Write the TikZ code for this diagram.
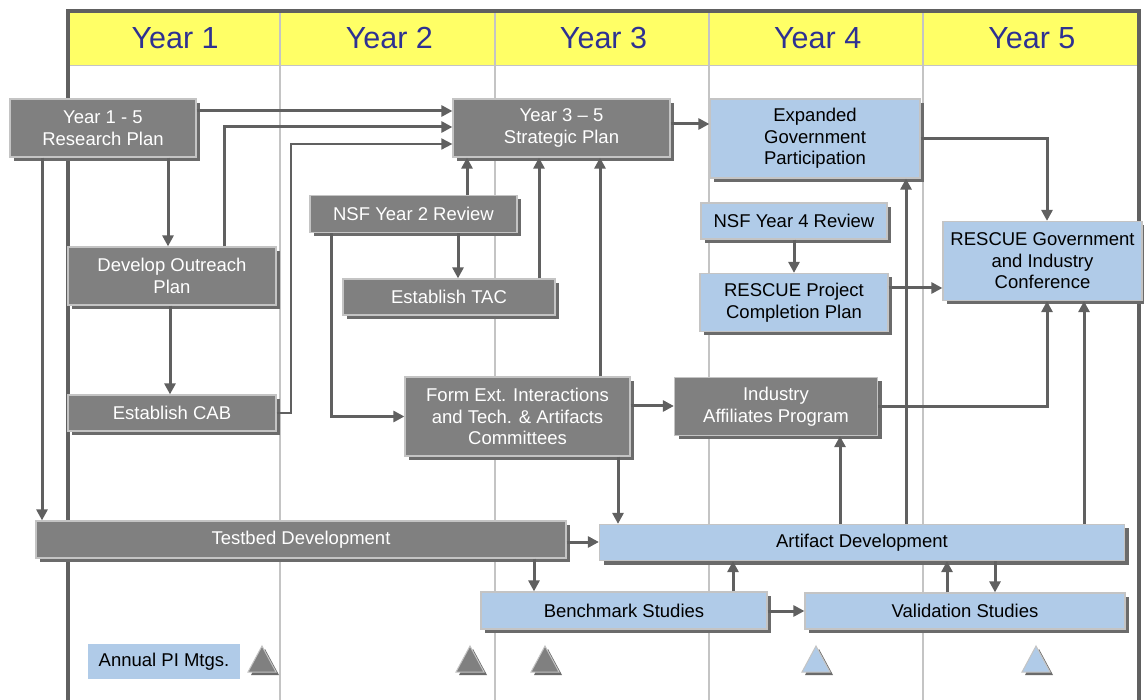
\documentclass[tikz,border=0pt]{standalone}
\usepackage{fontspec}
\setmainfont{Liberation Sans}
\usetikzlibrary{arrows.meta,shadows}
\definecolor{boxgray}{HTML}{808080}
\definecolor{linegray}{HTML}{606060}
\definecolor{skyblue}{HTML}{B0CBE8}
\definecolor{headblue}{HTML}{2E3192}
\definecolor{headyellow}{HTML}{FFFF66}
\definecolor{gridgray}{HTML}{C4C4C4}

\begin{document}
\begin{tikzpicture}[x=1pt, y=-1pt,
  task/.style={draw=gridgray, line width=1.2pt, align=center, inner sep=0pt,
    font=\fontsize{18.5}{21.5}\selectfont,
    drop shadow={shadow xshift=4pt, shadow yshift=-4pt, fill=black!58, opacity=1}},
  dark/.style={task, fill=boxgray, text=white},
  light/.style={task, fill=skyblue, text=black},
  boxsize/.style 2 args={minimum width=#1pt, minimum height=#2pt},
  arr/.style={draw=linegray, line width=3pt, -{Triangle[length=11pt,width=11pt]}},
  thinarr/.style={arr, line width=1.8pt}]
\useasboundingbox (0,0) rectangle (1144,700);
% Header band and year columns
\fill[headyellow] (68,12) rectangle (1139,65);
\foreach \x in {280,495,709,923}
  \draw[gridgray, line width=1.6pt] (\x,12) -- (\x,700);
\draw[gridgray, line width=1.6pt] (68,65.5) -- (1139,65.5);
\foreach \i in {1,...,5}
  \node[text=headblue, font=\fontsize{30.5}{36}\selectfont] (year\i) at (68+214.2*\i-107.1,38) {Year \i};
% Frame
\draw[linegray, line width=4pt] (68,700) -- (68,11) -- (1139,11) -- (1139,700);
% Boxes
\node[dark, boxsize={186}{58}] (research) at (103,128) {Year 1 - 5\\Research Plan};
\node[dark, boxsize={217}{58}] (strategic) at (561.5,128) {Year 3 – 5\\Strategic Plan};
\node[light, boxsize={210}{79}] (expanded) at (815,138.5) {Expanded\\Government\\Participation};
\node[dark, boxsize={207}{37}] (nsftwo) at (413.5,214) {NSF Year 2 Review};
\node[dark, boxsize={208}{58}] (outreach) at (172,276) {Develop Outreach\\Plan};
\node[dark, boxsize={212}{36}] (tac) at (449,297) {Establish TAC};
\node[light, boxsize={186}{36}] (nsffour) at (794,221) {NSF Year 4 Review};
\node[light, boxsize={188}{58}] (completion) at (794,302.5) {RESCUE Project\\Completion Plan};
\node[light, boxsize={199}{79}] (conference) at (1042.5,261) {RESCUE Government\\and Industry\\Conference};
\node[dark, boxsize={208}{36}] (cab) at (172,413) {Establish CAB};
\node[dark, boxsize={225}{79}] (formext) at (517.5,416.5) {Form Ext. Interactions\\and Tech. \& Artifacts\\Committees};
\node[dark, boxsize={203}{58}] (industry) at (776,406.5) {Industry\\Affiliates Program};
\node[dark, boxsize={530}{37}] (testbed) at (301,539.5) {Testbed Development};
\node[light, boxsize={525}{36}] (artifact) at (862,542.5) {Artifact Development};
\node[light, boxsize={286}{37}] (benchmark) at (624,610.5) {Benchmark Studies};
\node[light, boxsize={320}{36}] (validation) at (965,611) {Validation Studies};
\node[fill=skyblue, font=\fontsize{18.5}{21.5}\selectfont, boxsize={152}{35}] (pimtgs) at (164,661.5) {Annual PI Mtgs.};
% Milestones
\foreach \x/\c in {262/boxgray,470/boxgray,545/boxgray,816/skyblue,1036/skyblue} {
  \fill[black!58] (\x+3,649) -- (\x+17,675) -- (\x-11,675) -- cycle;
  \filldraw[fill=\c, draw=gridgray, line width=1pt] (\x,646) -- (\x+14,672) -- (\x-14,672) -- cycle;
}
% Year 1 - 2 connectors
\draw[arr] (research.east |- 0,111) -- (strategic.west |- 0,111);
\draw[arr] (224,0 |- outreach.north) |- (strategic.west |- 0,127);
\draw[thinarr] (cab.east) -| (291,144) -- (strategic.west |- 0,144);
\draw[arr] (168,0 |- research.south) -- (168,0 |- outreach.north);
\draw[arr] (42,0 |- research.south) -- (42,0 |- testbed.north);
\draw[arr] (170,0 |- outreach.south) -- (170,0 |- cab.north);
\draw[arr] (467,0 |- nsftwo.north) -- (467,0 |- strategic.south);
\draw[arr] (539,0 |- tac.north) -- (539,0 |- strategic.south);
\draw[arr] (458,0 |- nsftwo.south) -- (458,0 |- tac.north);
\draw[arr] (331,0 |- nsftwo.south) |- (formext.west);
% Year 3 - 5 connectors
\draw[arr] (600,0 |- formext.north) -- (600,0 |- strategic.south);
\draw[arr] (formext.east |- 0,406) -- (industry.west |- 0,406);
\draw[arr] (618,0 |- formext.south) -- (618,0 |- artifact.north);
\draw[arr] (strategic.east |- 0,124) -- (expanded.west |- 0,124);
\draw[arr] (expanded.east) -| (1047,0 |- conference.north);
\draw[arr] (794,0 |- nsffour.south) -- (794,0 |- completion.north);
\draw[arr] (completion.east |- 0,288) -- (conference.west |- 0,288);
\draw[arr] (industry.east) -| (1047,0 |- conference.south);
\draw[arr] (1084,0 |- artifact.north) -- (1084,0 |- conference.south);
\draw[arr] (906,0 |- artifact.north) -- (906,0 |- expanded.south);
\draw[arr] (840,0 |- artifact.north) -- (840,0 |- industry.south);
% Bottom rows
\draw[arr] (testbed.east |- 0,542) -- (artifact.west |- 0,542);
\draw[arr] (534,0 |- testbed.south) -- (534,0 |- benchmark.north);
\draw[arr] (733,0 |- benchmark.north) -- (733,0 |- artifact.south);
\draw[arr] (benchmark.east |- 0,611) -- (validation.west |- 0,611);
\draw[arr] (947,0 |- validation.north) -- (947,0 |- artifact.south);
\draw[arr] (995,0 |- artifact.south) -- (995,0 |- validation.north);
\end{tikzpicture}
\end{document}
